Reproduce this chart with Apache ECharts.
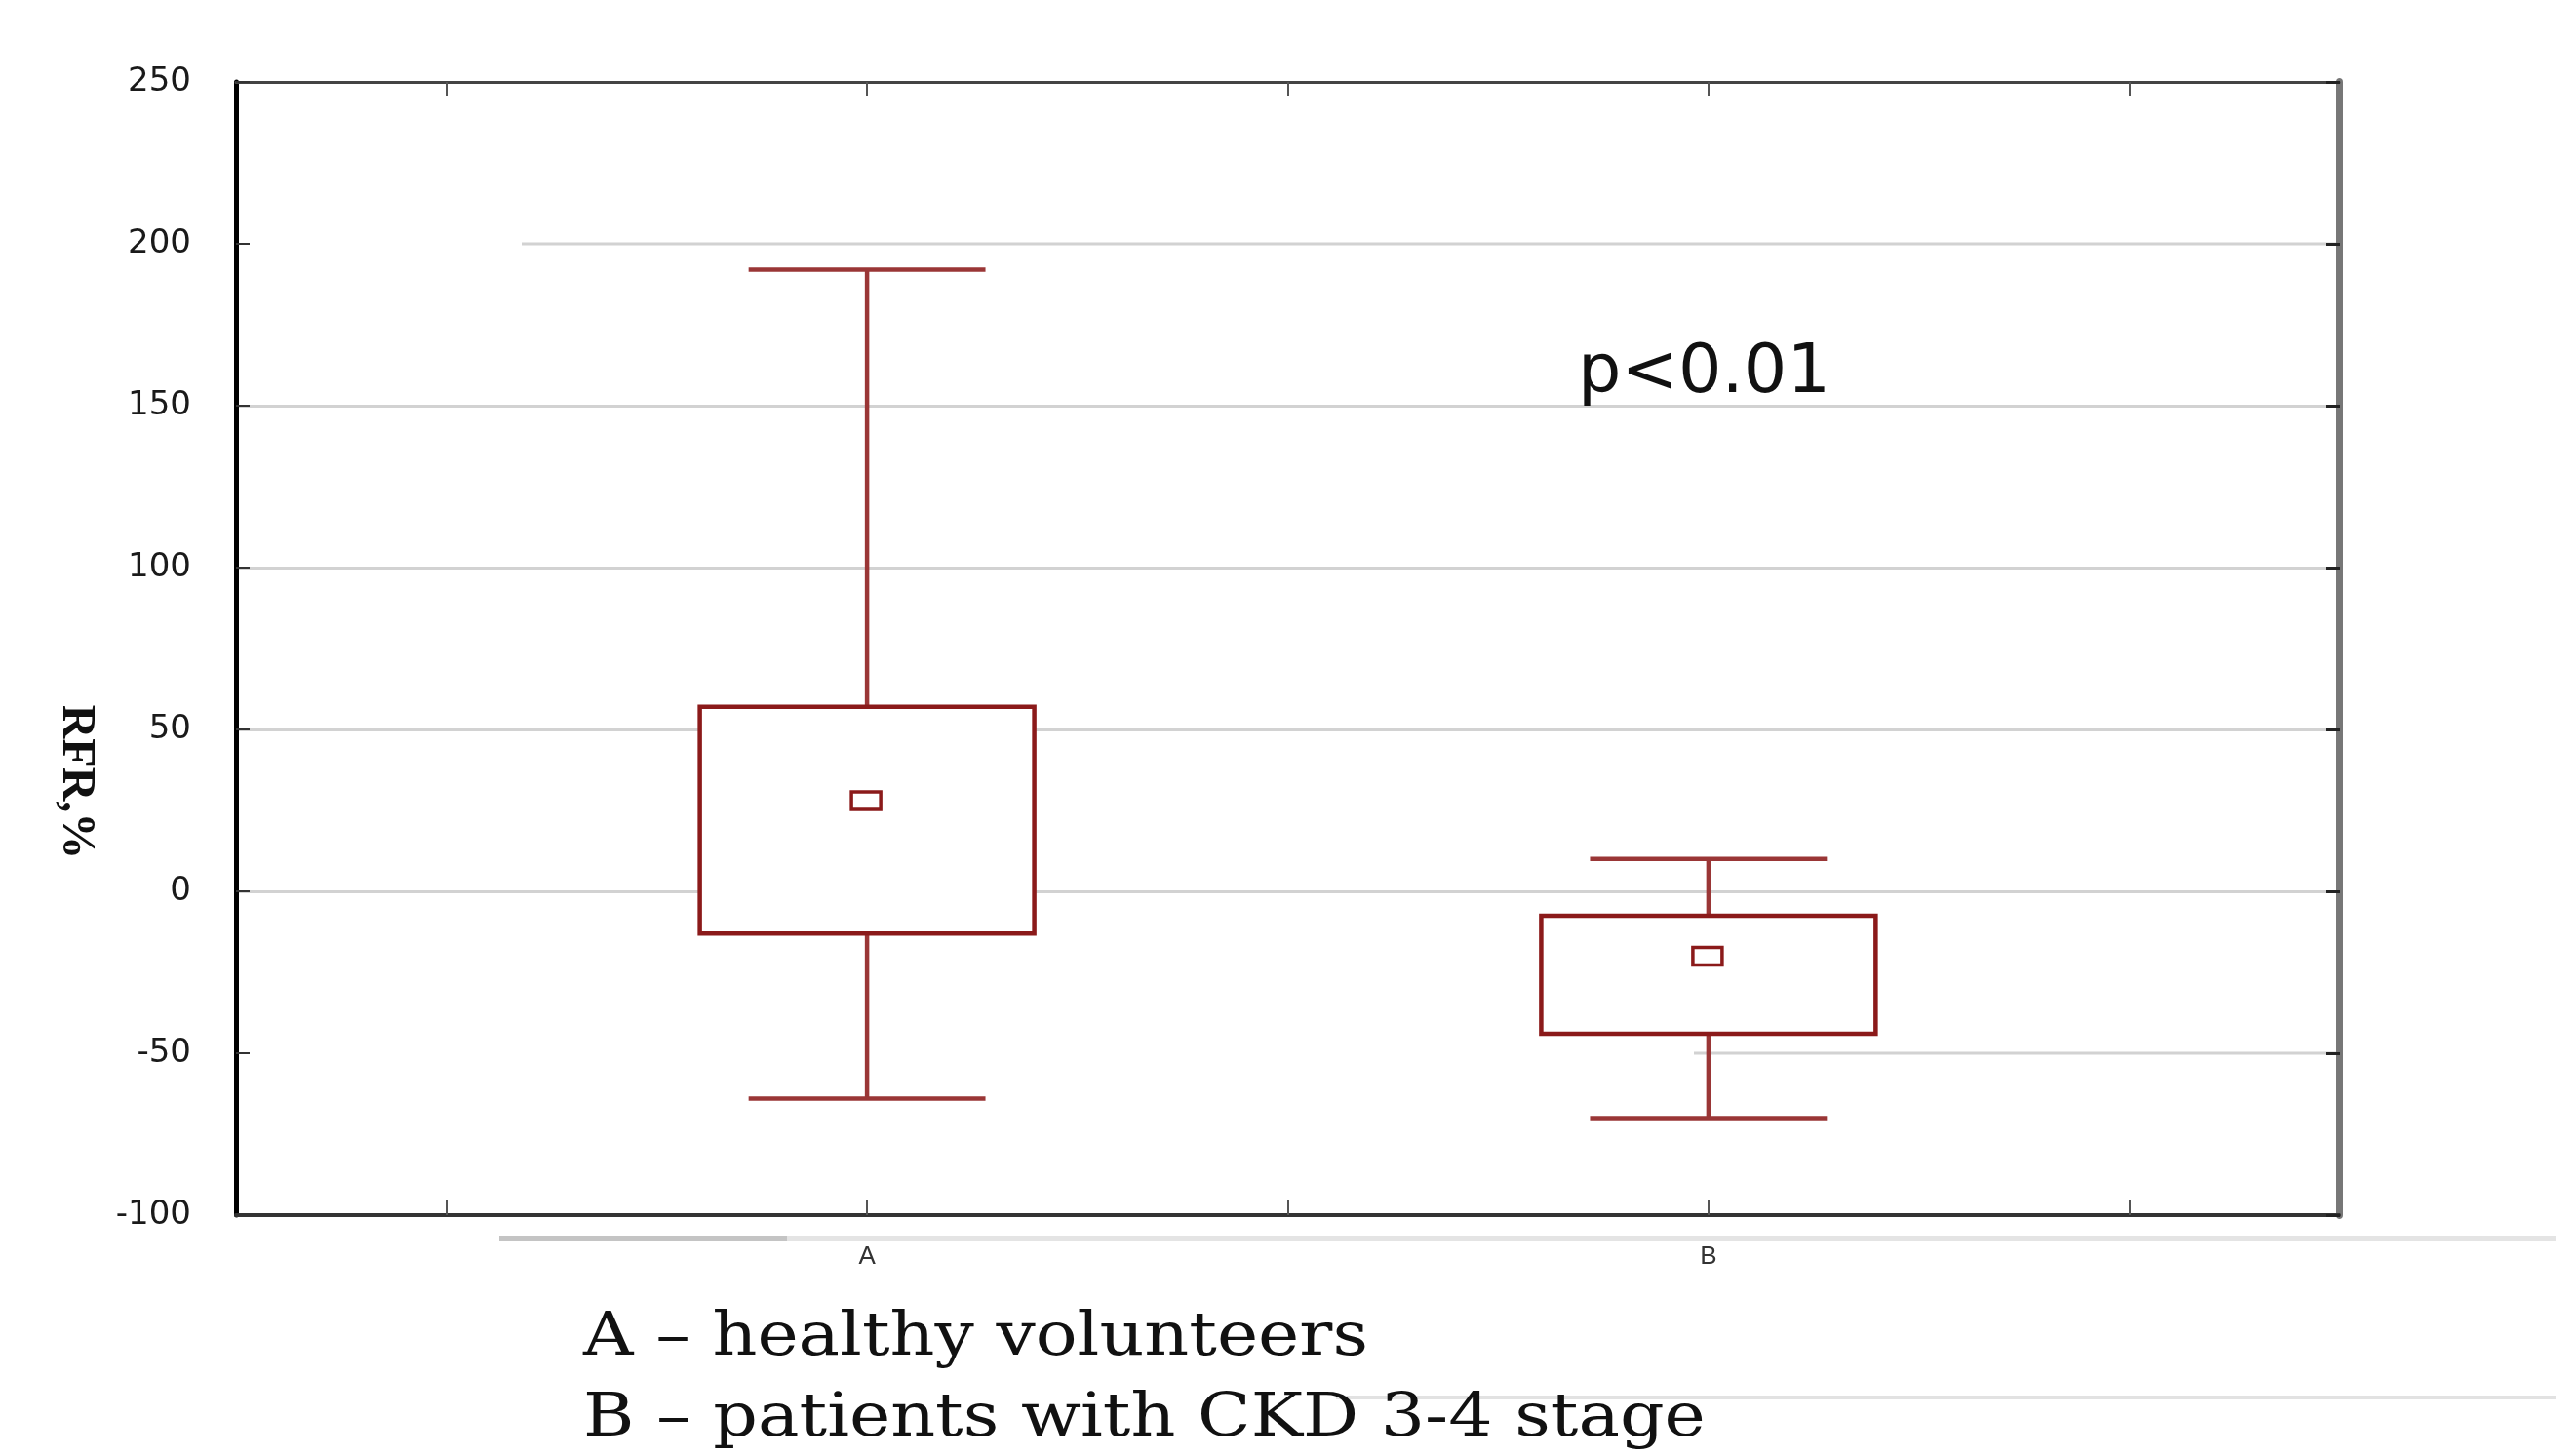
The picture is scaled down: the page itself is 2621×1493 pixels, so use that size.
<!DOCTYPE html>
<html><head><meta charset="utf-8">
<script src="https://cdn.jsdelivr.net/npm/echarts@6/dist/echarts.min.js"></script>
<style>html,body{margin:0;padding:0;background:#fff}#c{width:2621px;height:1493px}</style>
</head><body><div id="c"></div>
<script>
// ---- data ----
const categories = ['', 'A', '', 'B', ''];
const groups = ['A', 'B'];
const groupIndex = [1, 3];
const whiskerHigh = [192, 10];
const boxHigh = [57, -7.5];
const boxLow = [-13, -44];
const whiskerLow = [-64, -70];
const means = [28, -20];
const yMin = -100, yMax = 250, yStep = 50;
const legendLines = ['A \u2013 healthy volunteers', 'B \u2013 patients with CKD 3-4 stage'];
const annotation = 'p<0.01';
const yName = 'RFR,%';

const chart = echarts.init(document.getElementById('c'), null, {renderer: 'canvas'});
const grid = '#d2d2d2';
const clear = 'rgba(0,0,0,0)';
const boxData = groups.map((g, i) => [groupIndex[i], whiskerLow[i], boxLow[i], boxHigh[i], whiskerHigh[i], means[i]]);

chart.setOption({
  animation: false,
  backgroundColor: '#fff',
  grid: {left: 242, right: 222, top: 84, height: 1162},
  xAxis: [{
    type: 'category', data: categories, position: 'bottom',
    axisLine: {onZero: false, lineStyle: {color: '#333', width: 4}},
    axisTick: {show: true, inside: true, alignWithLabel: true, interval: 0, length: 16, lineStyle: {color: '#555', width: 2}},
    axisLabel: {interval: 0, margin: 30, fontFamily: 'Liberation Sans', fontSize: 26, color: '#333'},
    splitLine: {show: false}
  }, {
    type: 'category', data: categories, position: 'top',
    axisLine: {onZero: false, lineStyle: {color: '#444', width: 3}},
    axisTick: {show: true, inside: true, alignWithLabel: true, interval: 0, length: 14, lineStyle: {color: '#555', width: 2}},
    axisLabel: {show: false},
    splitLine: {show: false}
  }],
  yAxis: [{
    type: 'value', min: yMin, max: yMax, interval: yStep, position: 'left',
    axisLine: {show: true, onZero: false, lineStyle: {color: '#000', width: 5}},
    axisTick: {show: true, inside: true, length: 14, lineStyle: {color: '#333', width: 2}},
    axisLabel: {margin: 46, fontFamily: 'DejaVu Sans', fontSize: 34, color: '#1a1a1a'},
    splitLine: {show: true, lineStyle: {width: 3, color: [clear, clear, grid, grid, grid, grid, clear, clear]}}
  }, {
    type: 'value', min: yMin, max: yMax, interval: yStep, position: 'right',
    axisLine: {show: true, onZero: false, lineStyle: {color: '#777', width: 8}},
    axisTick: {show: true, inside: true, length: 14, lineStyle: {color: '#222', width: 3}},
    axisLabel: {show: false},
    splitLine: {show: false}
  }],
  series: [{
    type: 'custom', xAxisIndex: 0, yAxisIndex: 0, z: 5,
    data: boxData,
    renderItem(params, api) {
      const xi = api.value(0);
      const bw = api.size([1, 0])[0];
      const boxW = bw * 0.795, capW = bw * 0.563;
      const pWL = api.coord([xi, api.value(1)]);
      const pBL = api.coord([xi, api.value(2)]);
      const pBH = api.coord([xi, api.value(3)]);
      const pWH = api.coord([xi, api.value(4)]);
      const pM = api.coord([xi, api.value(5)]);
      const cx = pWL[0];
      const whisk = {stroke: '#9a3636', lineWidth: 4.5};
      return {type: 'group', children: [
        {type: 'line', shape: {x1: cx, y1: pWH[1], x2: cx, y2: pBH[1]}, style: whisk},
        {type: 'line', shape: {x1: cx, y1: pBL[1], x2: cx, y2: pWL[1]}, style: whisk},
        {type: 'line', shape: {x1: cx - capW / 2, y1: pWH[1], x2: cx + capW / 2, y2: pWH[1]}, style: whisk},
        {type: 'line', shape: {x1: cx - capW / 2, y1: pWL[1], x2: cx + capW / 2, y2: pWL[1]}, style: whisk},
        {type: 'rect', shape: {x: cx - boxW / 2, y: pBH[1], width: boxW, height: pBL[1] - pBH[1]}, style: {fill: '#fff', stroke: '#8b1a1a', lineWidth: 4.5}},
        {type: 'rect', shape: {x: pM[0] - 16, y: pM[1] - 9, width: 30, height: 18}, style: {fill: '#fff', stroke: '#8b1a1a', lineWidth: 3.5}}
      ]};
    }
  }]
});

const y200 = chart.convertToPixel({yAxisIndex: 0}, 200);
const yM50 = chart.convertToPixel({yAxisIndex: 0}, -50);
const xRight = 2621 - 222;

chart.setOption({
  graphic: [
    {type: 'line', z: 0, shape: {x1: 535, y1: y200, x2: xRight, y2: y200}, style: {stroke: grid, lineWidth: 3}},
    {type: 'line', z: 0, shape: {x1: 1737, y1: yM50, x2: xRight, y2: yM50}, style: {stroke: grid, lineWidth: 3}},
    {type: 'line', shape: {x1: 512, y1: 1270, x2: 2621, y2: 1270}, style: {stroke: '#e4e4e4', lineWidth: 6}},
    {type: 'line', shape: {x1: 512, y1: 1270, x2: 807, y2: 1270}, style: {stroke: '#c4c4c4', lineWidth: 6}},
    {type: 'line', shape: {x1: 1370, y1: 1433, x2: 2621, y2: 1433}, style: {stroke: '#e2e2e2', lineWidth: 4}},
    {type: 'text', x: 77, y: 802, rotation: -Math.PI / 2,
      style: {text: yName, fontFamily: 'Liberation Serif', fontWeight: 'bold', fontSize: 48, fill: '#111', textAlign: 'center', textVerticalAlign: 'middle'}},
    {type: 'text', x: 1618, y: 384,
      style: {text: annotation, fontFamily: 'DejaVu Sans', fontSize: 70, fill: '#111', textAlign: 'left', textVerticalAlign: 'middle'}},
    {type: 'text', x: 598, y: 1373, scaleX: 1.15,
      style: {text: legendLines[0], fontFamily: 'DejaVu Serif', fontSize: 62, fill: '#111', textAlign: 'left', textVerticalAlign: 'middle'}},
    {type: 'text', x: 598, y: 1456, scaleX: 1.15,
      style: {text: legendLines[1], fontFamily: 'DejaVu Serif', fontSize: 62, fill: '#111', textAlign: 'left', textVerticalAlign: 'middle'}}
  ]
});
</script>
</body></html>
